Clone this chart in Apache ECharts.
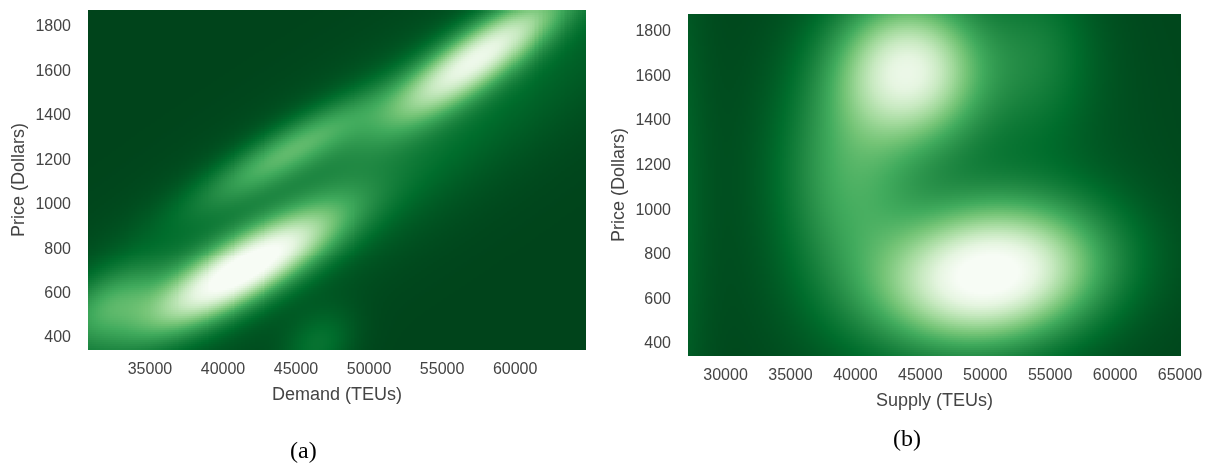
<!DOCTYPE html>
<html>
<head>
<meta charset="utf-8">
<script src="https://cdn.jsdelivr.net/npm/echarts@6/dist/echarts.min.js"></script>
<style>
  html, body { margin: 0; padding: 0; background: #ffffff; }
  #chart { width: 1206px; height: 476px; }
</style>
</head>
<body>
<div id="chart"></div>
<script>
// ---- Axis extents ----
const demandRange = [30760, 64850];      // TEUs
const demandPriceRange = [346, 1876];    // Dollars
const supplyRange = [27107, 65077];      // TEUs
const supplyPriceRange = [346, 1879];    // Dollars

// ---- Density modes, panel (a): demand vs price ----
const demandModeTEU   = [41500, 57500, 44560, 32260, 46600, 47290];
const demandModePrice = [710,   1665,  1246,  548,   368,   1066];
const demandSdTEU     = [4195,  4000,  4175,  2480,  1700,  14450];
const demandSdPrice   = [176,   195,   169,   124,   112,   642];
const demandCorr      = [0.81,  0.85,  0.875, 0.48,  0.3,   0.91];
const demandWeight    = [1.0,   0.82,  0.35,  0.3,   0.14,  0.18];

// ---- Density modes, panel (b): supply vs price ----
const supplyModeTEU   = [50400, 44200, 39500, 54000, 47000, 25500];
const supplyModePrice = [710,   1630,  1150,  1700,  1100,  1000];
const supplySdTEU     = [5600,  3700,  3500,  3000,  9000,  2000];
const supplySdPrice   = [205,   215,   330,   250,   700,   900];
const supplyCorr      = [0.15,  0.0,   0.0,   0.0,   0.0,   0.0];
const supplyWeight    = [1.0,   0.8,   0.3,   0.15,  0.1,   0.12];

// Greens colour ramp, low density -> high density
const greens = ['#00441b', '#006d2c', '#238b45', '#41ab5d', '#74c476',
                '#a1d99b', '#c7e9c0', '#e5f5e0', '#f7fcf5'];

function mixture(mx, my, sx, sy, rho, w) {
  return function (x, y) {
    let v = 0;
    for (let k = 0; k < mx.length; k++) {
      const u = (x - mx[k]) / sx[k];
      const t = (y - my[k]) / sy[k];
      const r = rho[k];
      const q = (u * u - 2 * r * u * t + t * t) / (1 - r * r);
      v += w[k] * Math.exp(-0.5 * q);
    }
    return v;
  };
}

function buildCells(xr, yr, nx, ny, f) {
  const dx = (xr[1] - xr[0]) / nx, dy = (yr[1] - yr[0]) / ny;
  const cells = [];
  for (let i = 0; i < nx; i++) {
    for (let j = 0; j < ny; j++) {
      const x = xr[0] + (i + 0.5) * dx;
      const y = yr[0] + (j + 0.5) * dy;
      cells.push([x, y, f(x, y)]);
    }
  }
  return { cells, hx: dx / 2, hy: dy / 2 };
}

const demandDensity = buildCells(demandRange, demandPriceRange, 249, 170,
  mixture(demandModeTEU, demandModePrice, demandSdTEU, demandSdPrice, demandCorr, demandWeight));
const supplyDensity = buildCells(supplyRange, supplyPriceRange, 246, 171,
  mixture(supplyModeTEU, supplyModePrice, supplySdTEU, supplySdPrice, supplyCorr, supplyWeight));

// Each cell is snapped outward to whole pixels so neighbouring cells never leave seams.
function cellRenderer(hx, hy) {
  return function (params, api) {
    const x = api.value(0), y = api.value(1);
    const p0 = api.coord([x - hx, y + hy]);
    const p1 = api.coord([x + hx, y - hy]);
    const x0 = Math.floor(p0[0]), y0 = Math.floor(p0[1]);
    const x1 = Math.ceil(p1[0]), y1 = Math.ceil(p1[1]);
    return {
      type: 'rect',
      shape: { x: x0, y: y0, width: x1 - x0, height: y1 - y0 },
      style: { fill: api.visual('color') }
    };
  };
}

const tickFont = { fontFamily: 'Liberation Sans, Arial, sans-serif', fontSize: 16, color: '#444' };
const nameFont = { fontFamily: 'Liberation Sans, Arial, sans-serif', fontSize: 18, color: '#444' };

function xAxis(gridIndex, range, name) {
  return {
    type: 'value', gridIndex, min: range[0], max: range[1],
    minInterval: 5000, maxInterval: 5000, splitNumber: 7,
    name, nameLocation: 'middle', nameGap: 36, nameTextStyle: nameFont,
    axisLine: { show: false }, axisTick: { show: false }, splitLine: { show: false },
    axisLabel: Object.assign({ margin: 12, formatter: v => (v % 5000 === 0 ? String(v) : '') }, tickFont)
  };
}
function yAxis(gridIndex, range) {
  return {
    type: 'value', gridIndex, min: range[0], max: range[1],
    minInterval: 200, maxInterval: 200, splitNumber: 7,
    name: 'Price (Dollars)', nameLocation: 'middle', nameGap: 60, nameTextStyle: nameFont,
    axisLine: { show: false }, axisTick: { show: false }, splitLine: { show: false },
    axisLabel: Object.assign({ margin: 17, formatter: v => (v % 200 === 0 ? String(v) : '') }, tickFont)
  };
}

function densitySeries(index, density) {
  return {
    type: 'custom', xAxisIndex: index, yAxisIndex: index, clip: true, silent: true,
    progressive: 0, progressiveThreshold: 1e7,
    renderItem: cellRenderer(density.hx, density.hy),
    data: density.cells
  };
}

const chart = echarts.init(document.getElementById('chart'), null, { renderer: 'canvas' });
chart.setOption({
  animation: false,
  backgroundColor: '#ffffff',
  grid: [
    { left: 88, top: 10, width: 498, height: 340 },
    { left: 688, top: 14, width: 493, height: 342 }
  ],
  xAxis: [xAxis(0, demandRange, 'Demand (TEUs)'), xAxis(1, supplyRange, 'Supply (TEUs)')],
  yAxis: [yAxis(0, demandPriceRange), yAxis(1, supplyPriceRange)],
  visualMap: [
    { type: 'continuous', show: false, seriesIndex: 0, dimension: 2, min: 0, max: 1, inRange: { color: greens } },
    { type: 'continuous', show: false, seriesIndex: 1, dimension: 2, min: 0, max: 1, inRange: { color: greens } }
  ],
  series: [densitySeries(0, demandDensity), densitySeries(1, supplyDensity)],
  graphic: [
    { type: 'text', left: 290, top: 440, style: { text: '(a)', font: '24px "Liberation Serif", serif', fill: '#000' } },
    { type: 'text', left: 893, top: 428, style: { text: '(b)', font: '24px "Liberation Serif", serif', fill: '#000' } }
  ]
});
</script>
</body>
</html>
